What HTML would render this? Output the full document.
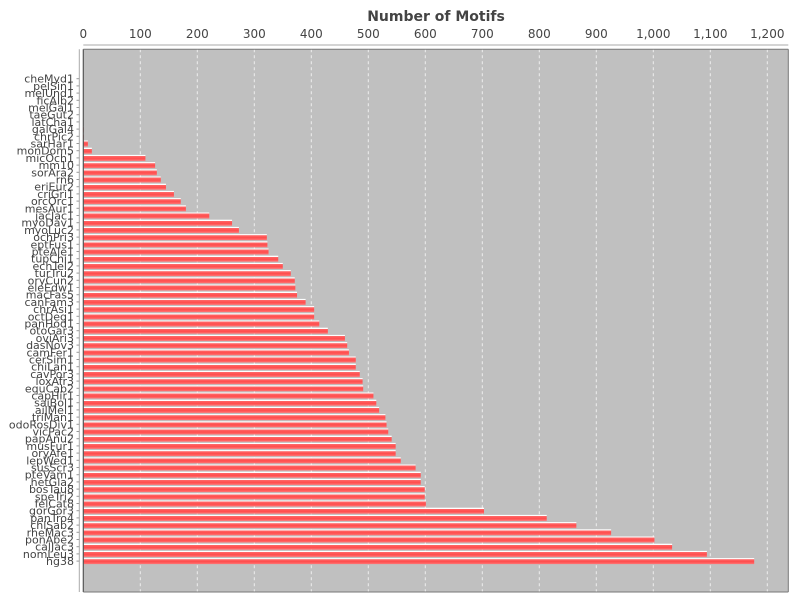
<!DOCTYPE html>
<html><head><meta charset="utf-8"><style>
body{margin:0;background:#fff;font-family:"DejaVu Sans","Liberation Sans",sans-serif}
</style></head><body>
<svg id="chart" width="800" height="600" xmlns="http://www.w3.org/2000/svg" font-family="DejaVu Sans, Liberation Sans, sans-serif">
<defs>
<linearGradient id="bg" x1="0" y1="0" x2="0" y2="1">
<stop offset="0" stop-color="#ffffff"/><stop offset="0.18" stop-color="#ffffff"/>
<stop offset="0.2" stop-color="#ff6a6a"/><stop offset="0.6" stop-color="#ff4c4c"/><stop offset="1" stop-color="#ff7777"/>
</linearGradient>
</defs>
<text x="436" y="21" text-anchor="middle" font-size="14" font-weight="bold" fill="#444">Number of Motifs</text>
<rect x="83.3" y="49.3" width="705" height="542.7" fill="#c0c0c0"/>
<g id="grid"></g>
<g id="bars"></g>
<line x1="83.3" y1="49.3" x2="83.3" y2="592" stroke="#555" stroke-width="1.2"/>
<line x1="83.3" y1="592" x2="788.3" y2="592" stroke="#777" stroke-width="1"/>
<line x1="788.3" y1="49.3" x2="788.3" y2="592" stroke="#777" stroke-width="1"/>
<line x1="83.3" y1="49.3" x2="788.3" y2="49.3" stroke="#777" stroke-width="1"/>
<line x1="83.3" y1="45" x2="788.3" y2="45" stroke="#aaa" stroke-width="1"/>
<line x1="79.3" y1="49.3" x2="79.3" y2="592" stroke="#aaa" stroke-width="1"/>
<g id="xticks"></g>
<g id="ylabels"></g>
</svg>
<script>
const categories=["cheMyd1","pelSin1","melUnd1","ficAlb2","melGal1","taeGut2","latCha1","galGal4","chrPic2","sarHar1","monDom5","micOch1","mm10","sorAra2","rn6","eriEur2","criGri1","orcOrc1","mesAur1","jacJac1","myoDav1","myoLuc2","ochPri3","eptFus1","pteAle1","tupChi1","echTel2","turTru2","oryCun2","eleEdw1","macFas5","canFam3","chrAsi1","octDeg1","panHod1","otoGar3","oviAri3","dasNov3","camFer1","cerSim1","chiLan1","cavPor3","loxAfr3","equCab2","capHir1","saiBol1","ailMel1","triMan1","odoRosDiv1","vicPac2","papAnu2","musFur1","oryAfe1","lepWed1","susScr3","pteVam1","hetGla2","bosTau8","speTri2","felCat8","gorGor3","panTro4","chlSab2","rheMac3","ponAbe2","calJac3","nomLeu3","hg38"];
const motifCounts=[0,0,0,0,0,0,0,1,1,8,15,109,126,129,136,145,159,171,180,221,261,273,322,323,325,342,350,364,371,372,375,390,405,405,414,429,459,463,466,478,478,485,490,491,509,514,519,530,532,535,541,548,548,557,583,592,592,599,599,601,703,813,865,926,1002,1033,1094,1177];
const tickValues=[0,100,200,300,400,500,600,700,800,900,1000,1100,1200];
const tickLabels=["0","100","200","300","400","500","600","700","800","900","1,000","1,100","1,200"];
const NS="http://www.w3.org/2000/svg";
const x0=83.3, pxPer=0.57, y0=78.7, band=7.2, barH=6;
function xScale(v){return x0+v*pxPer;}
function yScale(i){return y0+i*band;}
const grid=document.getElementById('grid'), xt=document.getElementById('xticks');
tickValues.forEach((v,i)=>{
  const x=xScale(v);
  if(v>0){const l=document.createElementNS(NS,'line');
  l.setAttribute('x1',x);l.setAttribute('x2',x);l.setAttribute('y1',49.3);l.setAttribute('y2',592);
  l.setAttribute('stroke','#eee');l.setAttribute('stroke-dasharray','3,3');
  
  
  grid.appendChild(l);}
  const t=document.createElementNS(NS,'text');
  t.setAttribute('x',x);t.setAttribute('y',38);t.setAttribute('text-anchor','middle');
  t.setAttribute('font-size','12');t.setAttribute('fill','#444');
  t.textContent=tickLabels[i];
  
  
  xt.appendChild(t);
});
const bars=document.getElementById('bars'), yl=document.getElementById('ylabels');
categories.forEach((c,i)=>{
  const y=yScale(i);
  if(motifCounts[i]>0){
    const r=document.createElementNS(NS,'rect');
    r.setAttribute('x',x0);r.setAttribute('y',y-barH/2);
    r.setAttribute('width',xScale(motifCounts[i])-x0);r.setAttribute('height',barH);
    r.setAttribute('fill','url(#bg)');
    
    
    bars.appendChild(r);
  }
  const tk=document.createElementNS(NS,'line');
  tk.setAttribute('x1',76.5);tk.setAttribute('x2',79.3);tk.setAttribute('y1',y);tk.setAttribute('y2',y);
  tk.setAttribute('stroke','#999');
  
  
  yl.appendChild(tk);
  const t=document.createElementNS(NS,'text');
  t.setAttribute('x',74);t.setAttribute('y',y+4);t.setAttribute('text-anchor','end');
  t.setAttribute('font-size','11');t.setAttribute('fill','#444');
  t.textContent=c;
  
  
  yl.appendChild(t);
});
</script>
</body></html>
